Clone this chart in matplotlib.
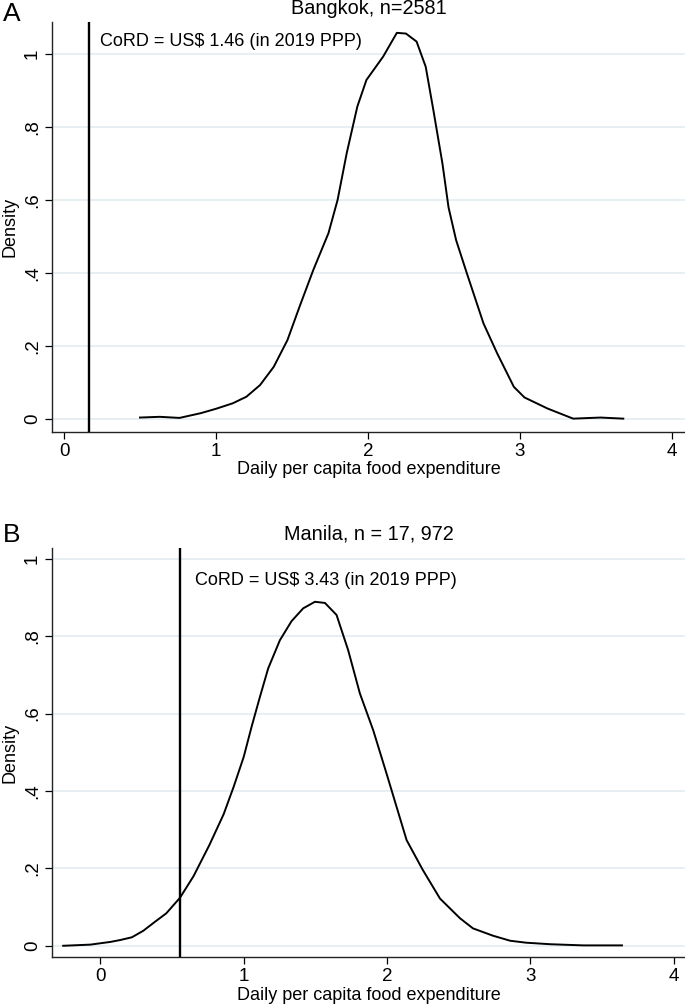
import numpy as np
import matplotlib
matplotlib.use("Agg")
import matplotlib.pyplot as plt

plt.rcParams['font.family'] = ['Liberation Sans', 'DejaVu Sans']

# Bangkok kernel density
bkk_x = [0.50, 0.63, 0.76, 0.90, 1.00, 1.11, 1.20, 1.29, 1.38, 1.47, 1.55, 1.64,
         1.74, 1.80, 1.86, 1.93, 1.99, 2.10, 2.19, 2.25, 2.32, 2.38, 2.43, 2.49,
         2.53, 2.58, 2.65, 2.76, 2.85, 2.96, 3.03, 3.18, 3.35, 3.53, 3.68]
bkk_y = [0.004, 0.006, 0.003, 0.016, 0.028, 0.043, 0.061, 0.093, 0.143, 0.216, 0.308, 0.408,
         0.509, 0.600, 0.728, 0.856, 0.929, 0.993, 1.058, 1.056, 1.034, 0.965, 0.847, 0.700,
         0.580, 0.490, 0.400, 0.262, 0.180, 0.088, 0.059, 0.029, 0.001, 0.004, 0.001]
bkk_cord = 0.162

# Manila kernel density
mnl_x = [-0.26, -0.07, 0.07, 0.14, 0.22, 0.30, 0.37, 0.46, 0.555, 0.65, 0.76, 0.86, 0.93,
         1.00, 1.055, 1.113, 1.171, 1.253, 1.334, 1.415, 1.497, 1.567, 1.648, 1.729, 1.811,
         1.904, 1.997, 2.067, 2.137, 2.25, 2.37, 2.51, 2.60, 2.74, 2.86, 2.97, 3.14, 3.37, 3.64]
mnl_y = [0.000, 0.003, 0.010, 0.015, 0.022, 0.039, 0.059, 0.084, 0.124, 0.180, 0.260, 0.340, 0.411,
         0.488, 0.566, 0.643, 0.717, 0.790, 0.839, 0.872, 0.889, 0.886, 0.855, 0.764, 0.652,
         0.557, 0.445, 0.359, 0.273, 0.196, 0.122, 0.071, 0.045, 0.026, 0.013, 0.008, 0.004, 0.001, 0.001]
mnl_cord = 0.558

xticks = [0, 1, 2, 3, 4]
yticks = [0, 0.2, 0.4, 0.6, 0.8, 1.0]
ylabels = ['0', '.2', '.4', '.6', '.8', '1']

W, H = 685, 1006
fig = plt.figure(figsize=(W / 100, H / 100), dpi=100)
gridc = '#e6eef1'


def panel(rect, x, y, cord, xlim, ylim, title, note, note_xy, letter, letter_y):
    ax = fig.add_axes(rect)
    ax.set_xlim(*xlim)
    ax.set_ylim(*ylim)
    for v in yticks:
        ax.axhline(v, color=gridc, lw=1.3, zorder=0)
    ax.plot(x, y, color='black', lw=1.4, zorder=3)
    ax.axvline(cord, color='black', lw=1.7, zorder=3)
    ax.spines['top'].set_visible(False)
    ax.spines['right'].set_visible(False)
    for s in ('left', 'bottom'):
        ax.spines[s].set_linewidth(1.0)
        ax.spines[s].set_color('#222222')
    ax.set_xticks(xticks)
    ax.set_yticks(yticks)
    ax.set_yticklabels(ylabels, rotation=90, va='center')
    ax.tick_params(direction='out', length=5, width=0.9, labelsize=13.5, pad=3)
    ax.set_xlabel('Daily per capita food expenditure', fontsize=13, labelpad=1)
    ax.set_ylabel('Density', fontsize=13, labelpad=4)
    ax.text(0.5, 1.0 + 14 / (rect[3] * H), title, transform=ax.transAxes,
            ha='center', va='center', fontsize=14.3)
    ax.text(note_xy[0], note_xy[1], note, ha='left', va='center', fontsize=13)
    fig.text(12 / W, 1 - letter_y / H, letter, ha='center', va='center', fontsize=19)
    return ax


panel([52 / W, 1 - 432 / H, 1 - 52 / W, 410 / H], bkk_x, bkk_y, bkk_cord,
      (-0.079, 4.086), (-0.0356, 1.0877), 'Bangkok, n=2581',
      'CoRD = US$ 1.46 (in 2019 PPP)', (0.237, 1.033), 'A', 14)
panel([52 / W, 1 - 957 / H, 1 - 52 / W, 409 / H], mnl_x, mnl_y, mnl_cord,
      (-0.338, 4.08), (-0.029, 1.028), 'Manila, n = 17, 972',
      'CoRD = US$ 3.43 (in 2019 PPP)', (0.66, 0.945), 'B', 535)

fig.savefig('out.png', dpi=100, facecolor='white')
